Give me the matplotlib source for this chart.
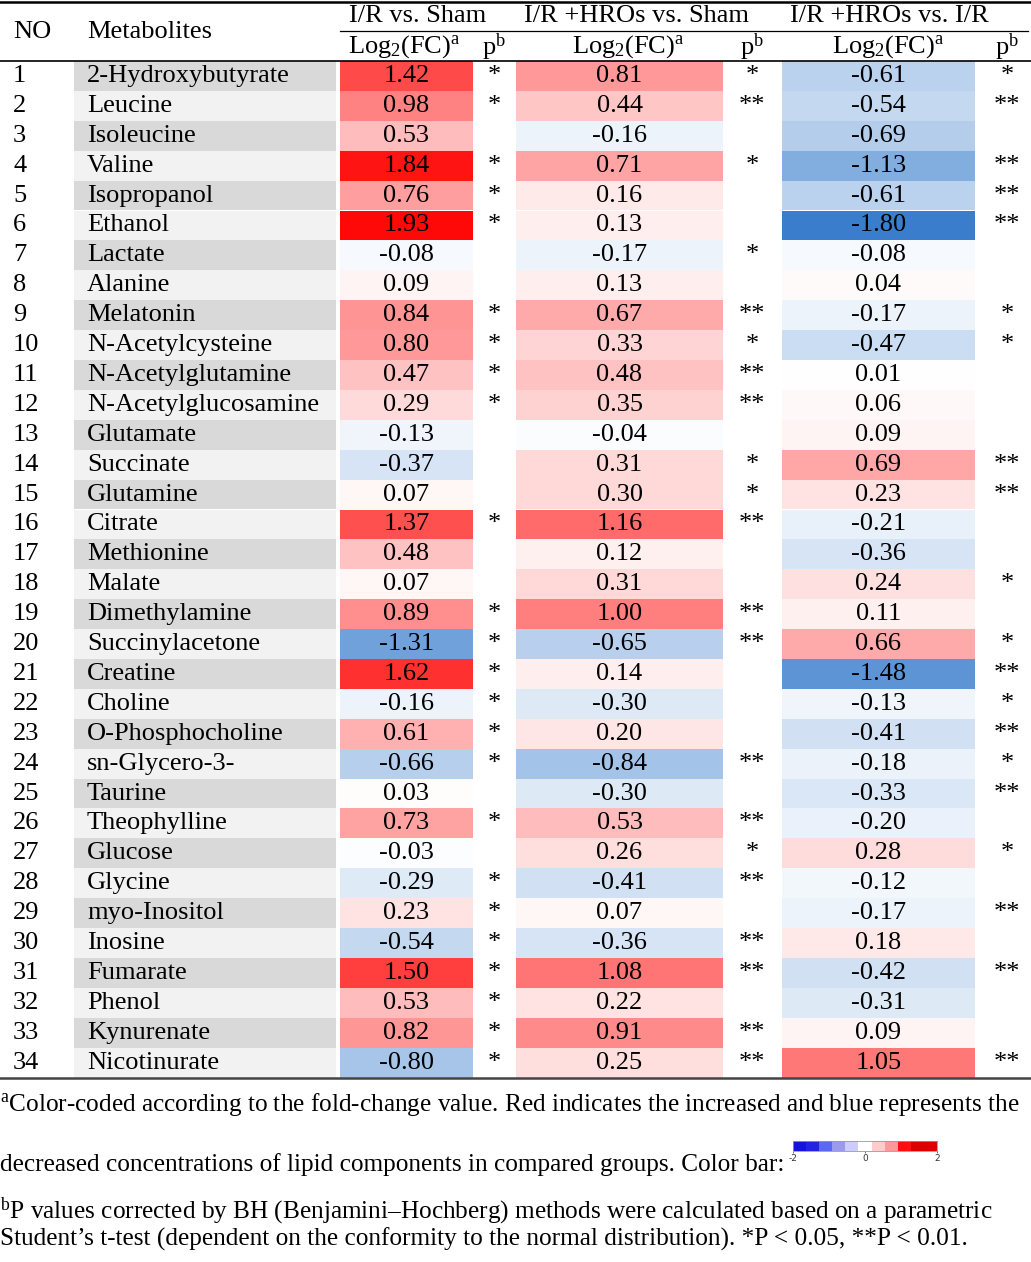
import numpy as np
import matplotlib.pyplot as plt
from matplotlib.colors import LinearSegmentedColormap, ListedColormap, Normalize

plt.rcParams['font.family'] = ['Liberation Serif', 'DejaVu Serif']
plt.rcParams['mathtext.fontset'] = 'custom'
plt.rcParams['mathtext.rm'] = 'Liberation Serif'
plt.rcParams['mathtext.it'] = 'Liberation Serif:italic'

# データ
metabolites = ["2-Hydroxybutyrate", "Leucine", "Isoleucine", "Valine", "Isopropanol",
               "Ethanol", "Lactate", "Alanine", "Melatonin", "N-Acetylcysteine",
               "N-Acetylglutamine", "N-Acetylglucosamine", "Glutamate", "Succinate",
               "Glutamine", "Citrate", "Methionine", "Malate", "Dimethylamine",
               "Succinylacetone", "Creatine", "Choline", "O-Phosphocholine",
               "sn-Glycero-3-", "Taurine", "Theophylline", "Glucose", "Glycine",
               "myo-Inositol", "Inosine", "Fumarate", "Phenol", "Kynurenate",
               "Nicotinurate"]

fc_ir_sham = [1.42, 0.98, 0.53, 1.84, 0.76, 1.93, -0.08, 0.09, 0.84, 0.80,
              0.47, 0.29, -0.13, -0.37, 0.07, 1.37, 0.48, 0.07, 0.89, -1.31,
              1.62, -0.16, 0.61, -0.66, 0.03, 0.73, -0.03, -0.29, 0.23, -0.54,
              1.50, 0.53, 0.82, -0.80]
p_ir_sham = ["*", "*", "", "*", "*", "*", "", "", "*", "*",
             "*", "*", "", "", "", "*", "", "", "*", "*",
             "*", "*", "*", "*", "", "*", "", "*", "*", "*",
             "*", "*", "*", "*"]

fc_hros_sham = [0.81, 0.44, -0.16, 0.71, 0.16, 0.13, -0.17, 0.13, 0.67, 0.33,
                0.48, 0.35, -0.04, 0.31, 0.30, 1.16, 0.12, 0.31, 1.00, -0.65,
                0.14, -0.30, 0.20, -0.84, -0.30, 0.53, 0.26, -0.41, 0.07, -0.36,
                1.08, 0.22, 0.91, 0.25]
p_hros_sham = ["*", "**", "", "*", "", "", "*", "", "**", "*",
               "**", "**", "", "*", "*", "**", "", "", "**", "**",
               "", "", "", "**", "", "**", "*", "**", "", "**",
               "**", "", "**", "**"]

fc_hros_ir = [-0.61, -0.54, -0.69, -1.13, -0.61, -1.80, -0.08, 0.04, -0.17, -0.47,
              0.01, 0.06, 0.09, 0.69, 0.23, -0.21, -0.36, 0.24, 0.11, 0.66,
              -1.48, -0.13, -0.41, -0.18, -0.33, -0.20, 0.28, -0.12, -0.17, 0.18,
              -0.42, -0.31, 0.09, 1.05]
p_hros_ir = ["*", "**", "", "**", "**", "**", "", "", "*", "*",
             "", "", "", "**", "**", "", "", "*", "", "*",
             "**", "*", "**", "*", "**", "", "*", "", "**", "",
             "**", "", "", "**"]

groups = ["I/R vs. Sham", "I/R +HROs vs. Sham", "I/R +HROs vs. I/R"]
bar_colors = ["#1414dc", "#2424e0", "#5a6aee", "#9a9af0", "#ccccff", "#ffffff",
              "#ffcccc", "#ff9999", "#ff1010", "#dd0000", "#dd0000"]
bar_ticks = [-2, 0, 2]

fc_cols = [fc_ir_sham, fc_hros_sham, fc_hros_ir]
p_cols = [p_ir_sham, p_hros_sham, p_hros_ir]

# 色
cmap = LinearSegmentedColormap.from_list("fc", [(36/255, 111/255, 199/255), "white", "red"])
norm = Normalize(-2, 2)

fig = plt.figure(figsize=(10.31, 12.62), dpi=100)
ax = fig.add_axes([0, 0, 1, 1])
ax.set_xlim(0, 1031)
ax.set_ylim(1262, 0)
ax.axis("off")

n = len(metabolites)
row_h = 29.9
top = 61
y = top + row_h * (np.arange(n) + 0.5)
fs = 19

# Metabolites列の背景
ax.barh(y, 262, left=74, height=row_h,
        color=["#d9d9d9" if i % 2 == 0 else "#f2f2f2" for i in range(n)])

cell_lr = [(340, 473), (516, 723), (782, 975)]
p_x = [494, 752, 1007]
group_x = [418, 636, 889]
sub_x = [404, 628, 888]

for k in range(3):
    l, r = cell_lr[k]
    vals = np.array(fc_cols[k])
    ax.barh(y, r - l, left=l, height=row_h, color=cmap(norm(vals)))
    for i in range(n):
        ax.text((l + r) / 2, y[i], f"{vals[i]:.2f}", ha="center", va="center", fontsize=fs)
        ax.text(p_x[k], y[i], p_cols[k][i], ha="center", va="center", fontsize=fs)
    ax.text(group_x[k], 16, groups[k], ha="center", va="center", fontsize=fs)
    ax.text(sub_x[k], 47, r"Log$_\mathrm{2}$(FC)$^\mathrm{a}$", ha="center", va="center", fontsize=fs)
    ax.text(p_x[k], 47, r"p$^\mathrm{b}$", ha="center", va="center", fontsize=fs)

for i in range(n):
    ax.text(13, y[i], str(i + 1), ha="left", va="center", fontsize=fs)
    ax.text(87, y[i], metabolites[i], ha="left", va="center", fontsize=fs)

ax.text(13, 32, "NO", ha="left", va="center", fontsize=fs)
ax.text(87, 32, "Metabolites", ha="left", va="center", fontsize=fs)

# 罫線
ax.plot([0, 1031], [2, 2], color="black", lw=1.8)
ax.plot([340, 1028], [30.5, 30.5], color="black", lw=0.9)
ax.plot([0, 1031], [61, 61], color="black", lw=1.2)
ax.plot([0, 1031], [1078, 1078], color="#444444", lw=1.8)

# 脚注
ffs = 18.2
ax.text(0, 1105, r"$^\mathrm{a}$Color-coded according to the fold-change value. Red indicates the increased and blue represents the",
        ha="left", va="center", fontsize=ffs)
ax.text(0, 1165, "decreased concentrations of lipid components in compared groups. Color bar:",
        ha="left", va="center", fontsize=ffs)
ax.text(0, 1211, r"$^\mathrm{b}$P values corrected by BH (Benjamini–Hochberg) methods were calculated based on a parametric",
        ha="left", va="center", fontsize=ffs)
ax.text(0, 1239, "Student’s t-test (dependent on the conformity to the normal distribution). *P < 0.05, **P < 0.01.",
        ha="left", va="center", fontsize=ffs)

# カラーバー
cax = fig.add_axes([793 / 1031, 1 - 1151 / 1262, 144 / 1031, 10 / 1262])
cax.imshow(np.arange(len(bar_colors))[None, :], cmap=ListedColormap(bar_colors),
           aspect="auto", extent=[-2, 2, 0, 1])
cax.set_yticks([])
cax.set_xticks(bar_ticks)
cax.set_xticklabels([str(t) for t in bar_ticks], family="DejaVu Sans", fontsize=6.5)
cax.tick_params(axis="x", length=1.5, width=0.5, pad=1, colors="#333333")
for s in cax.spines.values():
    s.set_color("#999999")
    s.set_linewidth(0.6)

plt.savefig("out.png", dpi=100)
